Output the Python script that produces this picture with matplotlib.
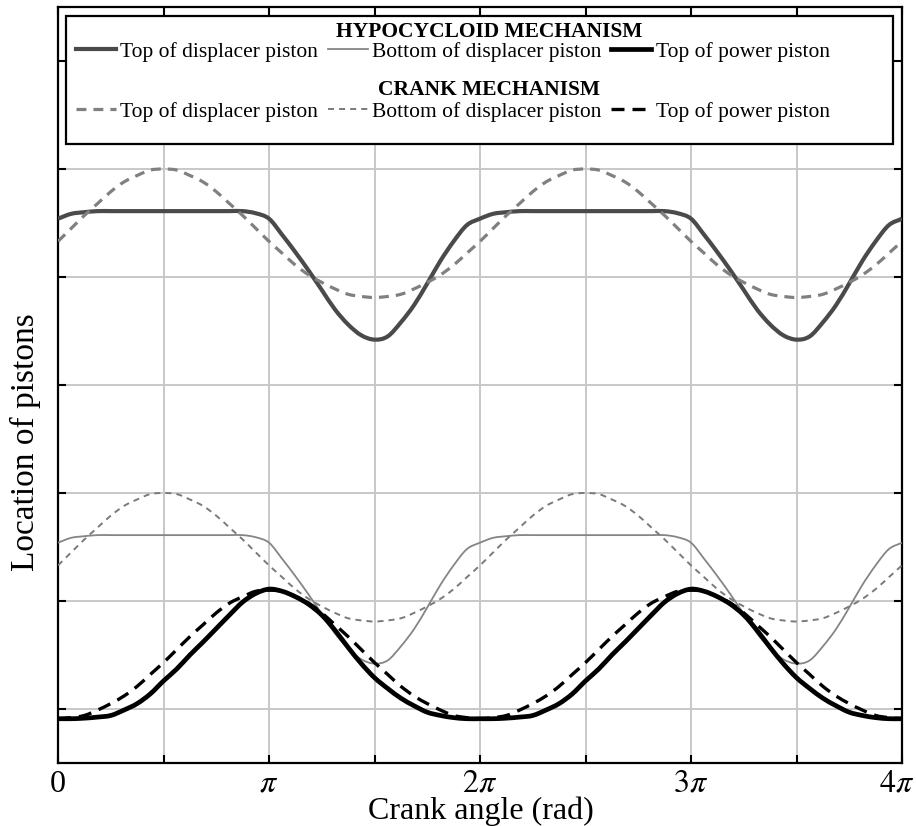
import numpy as np
import matplotlib
matplotlib.use("Agg")
import matplotlib.pyplot as plt
from matplotlib.patches import Rectangle, PathPatch
from matplotlib.path import Path
from matplotlib.lines import Line2D
from matplotlib.transforms import ScaledTranslation

plt.rcParams['font.family'] = ['Liberation Serif', 'DejaVu Serif']
plt.rcParams['mathtext.fontset'] = 'stix'

# ---------------- data (crank angle sampled every pi/16, 0 .. 4pi) ----------------
samples_per_pi = 16
n_samples = 65

hypo_top_displacer = [
    4.54, 4.585, 4.60, 4.61, 4.61, 4.61, 4.61, 4.61, 4.61, 4.61, 4.61, 4.61, 4.61, 4.61, 4.61, 4.59,
    4.54, 4.39, 4.23, 4.06, 3.88, 3.70, 3.56, 3.46, 3.42, 3.45, 3.58, 3.74, 3.94, 4.15, 4.33, 4.48,
    4.54, 4.585, 4.60, 4.61, 4.61, 4.61, 4.61, 4.61, 4.61, 4.61, 4.61, 4.61, 4.61, 4.61, 4.61, 4.59,
    4.54, 4.39, 4.23, 4.06, 3.88, 3.70, 3.56, 3.46, 3.42, 3.45, 3.58, 3.74, 3.94, 4.15, 4.33, 4.48,
    4.54]
hypo_bottom_displacer = [
    1.54, 1.585, 1.60, 1.61, 1.61, 1.61, 1.61, 1.61, 1.61, 1.61, 1.61, 1.61, 1.61, 1.61, 1.61, 1.59,
    1.54, 1.39, 1.23, 1.06, 0.88, 0.70, 0.56, 0.46, 0.42, 0.45, 0.58, 0.74, 0.94, 1.15, 1.33, 1.48,
    1.54, 1.585, 1.60, 1.61, 1.61, 1.61, 1.61, 1.61, 1.61, 1.61, 1.61, 1.61, 1.61, 1.61, 1.61, 1.59,
    1.54, 1.39, 1.23, 1.06, 0.88, 0.70, 0.56, 0.46, 0.42, 0.45, 0.58, 0.74, 0.94, 1.15, 1.33, 1.48,
    1.54]
hypo_top_power = [
    -0.09, -0.09, -0.085, -0.075, -0.06, -0.01, 0.05, 0.14, 0.26, 0.37, 0.50, 0.62, 0.745, 0.87, 0.99, 1.07,
    1.11, 1.09, 1.04, 0.97, 0.87, 0.73, 0.57, 0.42, 0.29, 0.19, 0.10, 0.03, -0.03, -0.06, -0.08, -0.09,
    -0.09, -0.09, -0.085, -0.075, -0.06, -0.01, 0.05, 0.14, 0.26, 0.37, 0.50, 0.62, 0.745, 0.87, 0.99, 1.07,
    1.11, 1.09, 1.04, 0.97, 0.87, 0.73, 0.57, 0.42, 0.29, 0.19, 0.10, 0.03, -0.03, -0.06, -0.08, -0.09,
    -0.09]
crank_top_displacer = [
    4.33, 4.45, 4.57, 4.68, 4.79, 4.88, 4.94, 4.99, 5.00, 4.99, 4.94, 4.88, 4.79, 4.68, 4.57, 4.45,
    4.33, 4.22, 4.11, 4.02, 3.95, 3.89, 3.84, 3.82, 3.81, 3.82, 3.84, 3.89, 3.95, 4.02, 4.11, 4.22,
    4.33, 4.45, 4.57, 4.68, 4.79, 4.88, 4.94, 4.99, 5.00, 4.99, 4.94, 4.88, 4.79, 4.68, 4.57, 4.45,
    4.33, 4.22, 4.11, 4.02, 3.95, 3.89, 3.84, 3.82, 3.81, 3.82, 3.84, 3.89, 3.95, 4.02, 4.11, 4.22,
    4.33]
crank_bottom_displacer = [
    1.33, 1.45, 1.57, 1.68, 1.79, 1.88, 1.94, 1.99, 2.00, 1.99, 1.94, 1.88, 1.79, 1.68, 1.57, 1.45,
    1.33, 1.22, 1.11, 1.02, 0.95, 0.89, 0.84, 0.82, 0.81, 0.82, 0.84, 0.89, 0.95, 1.02, 1.11, 1.22,
    1.33, 1.45, 1.57, 1.68, 1.79, 1.88, 1.94, 1.99, 2.00, 1.99, 1.94, 1.88, 1.79, 1.68, 1.57, 1.45,
    1.33, 1.22, 1.11, 1.02, 0.95, 0.89, 0.84, 0.82, 0.81, 0.82, 0.84, 0.89, 0.95, 1.02, 1.11, 1.22,
    1.33]
crank_top_power = [
    -0.09, -0.08, -0.06, -0.01, 0.05, 0.12, 0.21, 0.32, 0.43, 0.55, 0.67, 0.78, 0.89, 0.98, 1.04, 1.09,
    1.10, 1.09, 1.04, 0.98, 0.89, 0.78, 0.67, 0.55, 0.43, 0.32, 0.21, 0.12, 0.05, -0.01, -0.06, -0.08,
    -0.09, -0.08, -0.06, -0.01, 0.05, 0.12, 0.21, 0.32, 0.43, 0.55, 0.67, 0.78, 0.89, 0.98, 1.04, 1.09,
    1.10, 1.09, 1.04, 0.98, 0.89, 0.78, 0.67, 0.55, 0.43, 0.32, 0.21, 0.12, 0.05, -0.01, -0.06, -0.08,
    -0.09]

series_labels = ["Top of displacer piston", "Bottom of displacer piston", "Top of power piston"]
group_titles = ["HYPOCYCLOID MECHANISM", "CRANK MECHANISM"]
xtick_labels = ["0", "", r"$\pi$", "", r"$2\pi$", "", r"$3\pi$", "", r"$4\pi$"]
x_label = "Crank angle (rad)"
y_label = "Location of pistons"

theta = np.arange(n_samples) * np.pi / samples_per_pi


def smooth_curve(ax, x, y, **style):
    """Draw a smooth (cubic Bezier through every point) curve in data coords."""
    p = np.column_stack([x, np.asarray(y, float)])
    m = np.empty_like(p)
    m[1:-1] = (p[2:] - p[:-2]) / 2
    m[0] = p[1] - p[0]
    m[-1] = p[-1] - p[-2]
    verts = [p[0]]
    codes = [Path.MOVETO]
    for i in range(len(p) - 1):
        verts += [p[i] + m[i] / 3, p[i + 1] - m[i + 1] / 3, p[i + 1]]
        codes += [Path.CURVE4] * 3
    patch = PathPatch(Path(verts, codes), fill=False, transform=ax.transData,
                      joinstyle='round', capstyle='butt', zorder=3, **style)
    ax.add_patch(patch)
    return Line2D([], [], **style)


# ---------------- figure ----------------
W, H = 916, 826
fig = plt.figure(figsize=(W / 100, H / 100), dpi=100)
ax = fig.add_axes([58 / W, 1 - 763 / H, (902 - 58) / W, (763 - 7) / H])

l1 = smooth_curve(ax, theta, hypo_top_displacer, color='#4a4a4a', lw=3.0)
l2 = smooth_curve(ax, theta, hypo_bottom_displacer, color='#858585', lw=1.3)
l3 = smooth_curve(ax, theta, hypo_top_power, color='black', lw=3.4)
c1 = smooth_curve(ax, theta, crank_top_displacer, color='#808080', lw=2.3, ls=(0, (3.1, 2.2)))
c2 = smooth_curve(ax, theta, crank_bottom_displacer, color='#7a7a7a', lw=1.4, ls=(0, (3.1, 2.6)))
c3 = smooth_curve(ax, theta, crank_top_power, color='black', lw=2.4, ls=(0, (3.9, 2.4)))

ax.set_xlim(0, 4 * np.pi)
ax.set_ylim(-0.5, 6.5)
ax.set_xticks(np.arange(9) * np.pi / 2)
ax.set_xticklabels(xtick_labels, fontsize=23)
ax.set_yticks(np.arange(7))
ax.set_yticklabels([])
ax.tick_params(direction='in', length=6, width=1.5, top=True, right=True, pad=5)
ax.grid(True, color='#c8c8c8', lw=1.4, zorder=0)
ax.set_axisbelow(True)
for s in ax.spines.values():
    s.set_linewidth(1.6)

# keep the last tick label inside the canvas, as in the reference
last = ax.get_xticklabels()[-1]
last.set_transform(last.get_transform() + ScaledTranslation(-5 / 100, 0, fig.dpi_scale_trans))

# legend frame
box = Rectangle((66 / W, 1 - 144 / H), (893 - 66) / W, (144 - 16) / H, transform=fig.transFigure,
                facecolor='white', edgecolor='black', lw=1.6, zorder=4, clip_on=False)
ax.add_patch(box)

common = dict(loc='center left', ncol=3, frameon=False, fontsize=15.5, borderpad=0, borderaxespad=0,
              handlelength=1.86, handletextpad=0.2, columnspacing=0.45, bbox_transform=fig.transFigure)
leg1 = fig.legend([l1, l2, l3], series_labels, bbox_to_anchor=(76 / W, 1 - 52 / H), **common)
leg2 = fig.legend([c1, c2, c3], series_labels, bbox_to_anchor=(76 / W, 1 - 112 / H), **common)

fig.text(489 / W, 1 - 32 / H, group_titles[0], ha='center', va='center', fontsize=15.5, fontweight='bold')
fig.text(489 / W, 1 - 90 / H, group_titles[1], ha='center', va='center', fontsize=15.5, fontweight='bold')

fig.text(481 / W, 1 - 811 / H, x_label, ha='center', va='center', fontsize=23)
fig.text(25 / W, 1 - 442 / H, y_label, ha='center', va='center', rotation=90, fontsize=24)

fig.savefig("out.png", dpi=100)
